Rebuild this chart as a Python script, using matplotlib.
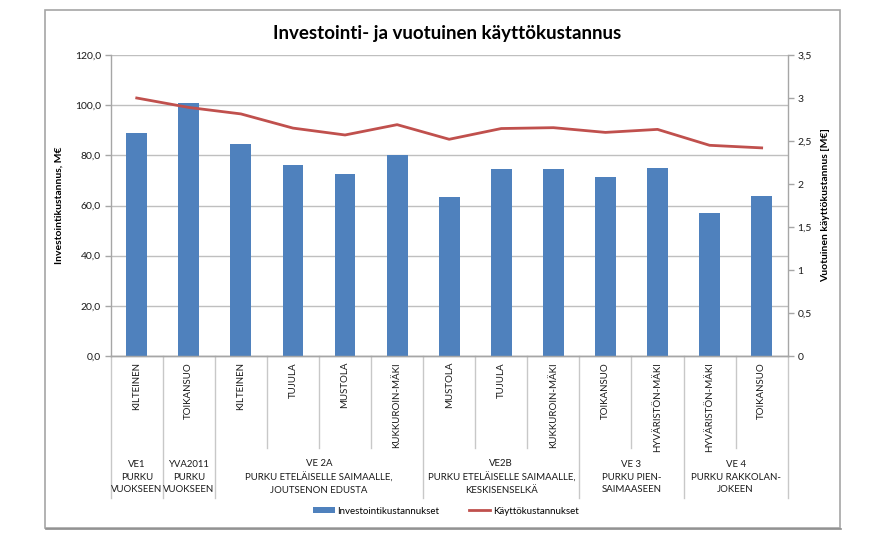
import matplotlib
matplotlib.use("Agg")
import matplotlib.pyplot as plt
import matplotlib.transforms as mtransforms
from matplotlib.lines import Line2D
from matplotlib.patches import Rectangle, Patch

plt.rcParams['font.family'] = ['Lato', 'DejaVu Sans']

categories = ["KILTEINEN", "TOIKANSUO", "KILTEINEN", "TUJULA", "MUSTOLA", "KUKKUROIN-MÄKI",
              "MUSTOLA", "TUJULA", "KUKKUROIN-MÄKI", "TOIKANSUO", "HYVÄRISTÖN-MÄKI",
              "HYVÄRISTÖN-MÄKI", "TOIKANSUO"]
groups = ["VE1\nPURKU\nVUOKSEEN",
          "YVA2011\nPURKU\nVUOKSEEN",
          "VE 2A\nPURKU ETELÄISELLE SAIMAALLE,\nJOUTSENON EDUSTA",
          "VE2B\nPURKU ETELÄISELLE SAIMAALLE,\nKESKISENSELKÄ",
          "VE 3\nPURKU PIEN-\nSAIMAASEEN",
          "VE 4\nPURKU RAKKOLAN-\nJOKEEN"]
group_sizes = [1, 1, 4, 3, 2, 2]
investment = [89.0, 100.8, 84.7, 76.1, 72.5, 80.3, 63.2, 74.5, 74.5, 71.3, 74.9, 56.9, 63.9]
operating = [3.00, 2.89, 2.815, 2.65, 2.57, 2.69, 2.52, 2.645, 2.655, 2.60, 2.635, 2.45, 2.42]
left_ticks = [0, 20, 40, 60, 80, 100, 120]
right_ticks = [0, 0.5, 1, 1.5, 2, 2.5, 3, 3.5]

W, H = 882, 534
fig = plt.figure(figsize=(W / 100, H / 100), dpi=100)

def fy(ypix):
    return 1 - ypix / H

# outer frame
fig.patches.append(Rectangle((45 / W, fy(528)), (840 - 45) / W, (528 - 10) / H,
                             transform=fig.transFigure, fill=False,
                             edgecolor='#a6a6a6', linewidth=1.2))
fig.lines.append(Line2D([46 / W, 841 / W], [fy(529), fy(529)], transform=fig.transFigure,
                        color='#8c8c8c', linewidth=1.2))

ax_l, ax_r, ax_t, ax_b = 110.7, 787.7, 55, 356
ax = fig.add_axes([ax_l / W, fy(ax_b), (ax_r - ax_l) / W, (ax_b - ax_t) / H])
ax2 = ax.twinx()

x = list(range(len(categories)))
ax.bar(x, investment, width=0.40, color='#4f81bd', zorder=3, label='Investointikustannukset')
ax2.plot(x, operating, color='#c0504d', linewidth=2, zorder=4, label='Käyttökustannukset')

ax.set_xlim(-0.5, len(categories) - 0.5)
ax.set_ylim(0, 120)
ax2.set_ylim(0, 3.5)
ax.set_yticks(left_ticks)
ax.set_yticklabels([f"{v:.1f}".replace('.', ',') for v in left_ticks])
ax2.set_yticks(right_ticks)
ax2.set_yticklabels([("%g" % v).replace('.', ',') for v in right_ticks])
ax.set_xticks([])
ax.grid(axis='y', color='#bfbfbf', linewidth=1, zorder=0)
ax.set_axisbelow(True)

for a in (ax, ax2):
    a.spines['top'].set_visible(False)
    for s in ('left', 'right', 'bottom'):
        a.spines[s].set_color('#a6a6a6')
        a.spines[s].set_linewidth(1)
    a.tick_params(axis='y', length=4, width=1, color='#a6a6a6', labelsize=7.5,
                  labelcolor='#1a1a1a', pad=3)
ax2.spines['left'].set_visible(False)
ax.spines['right'].set_visible(False)

ax.set_ylabel("Investointikustannus, M€", fontsize=7.5, fontweight='bold', labelpad=8)
ax2.set_ylabel("Vuotuinen käyttökustannus [M€]", fontsize=7.5, fontweight='bold', labelpad=7)

fig.text(447 / W, fy(33), "Investointi- ja vuotuinen käyttökustannus", ha='center',
         va='center', fontsize=13.5, fontweight='bold')

# multi-level category axis
tr = mtransforms.blended_transform_factory(ax.transData, fig.transFigure)
for i, c in enumerate(categories):
    ax.text(i, fy(362), c, rotation=90, ha='center', va='top', fontsize=7.0,
            transform=tr, color='#1a1a1a')

boundaries = [-0.5]
pos = -0.5
for g, n in zip(groups, group_sizes):
    center = pos + n / 2
    ax.text(center, fy(477), g, ha='center', va='center', fontsize=6.9, linespacing=1.5,
            transform=tr, color='#1a1a1a', multialignment='center')
    pos += n
    boundaries.append(pos)

for b in range(len(categories) + 1):
    xb = b - 0.5
    if any(abs(xb - bb) < 1e-9 for bb in boundaries):
        y_end = 498
    else:
        y_end = 448
    ax.add_line(Line2D([xb, xb], [fy(ax_b), fy(y_end)], transform=tr, color='#c8c8c8',
                       linewidth=1, clip_on=False))

handles = [Patch(facecolor='#4f81bd', edgecolor='none'),
           Line2D([0], [0], color='#c0504d', linewidth=2)]
fig.legend(handles, ['Investointikustannukset', 'Käyttökustannukset'], loc='center',
           bbox_to_anchor=(446 / W, fy(511)), ncol=2, frameon=False, fontsize=7,
           handlelength=2.2, handleheight=0.5, columnspacing=3, handletextpad=0.3)

fig.savefig("out.png", dpi=100)
